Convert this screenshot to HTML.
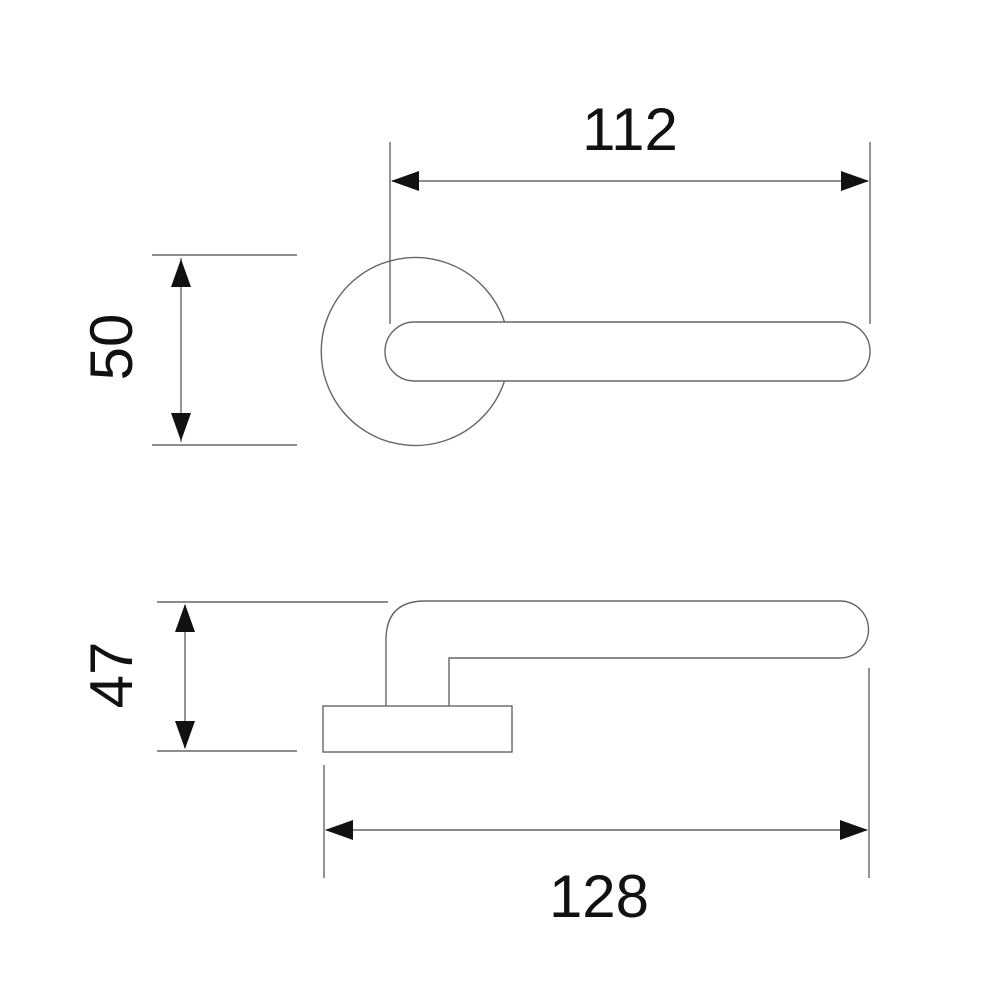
<!DOCTYPE html>
<html><head><meta charset="utf-8"><style>html,body{margin:0;padding:0;background:#fff}</style></head>
<body>
<svg width="1000" height="1000" viewBox="0 0 1000 1000" xmlns="http://www.w3.org/2000/svg">
<g fill="none" stroke="#666" stroke-width="1.4">
  <path d="M504.5 322 A94 94 0 1 0 504.5 381"/>
  <rect x="385" y="322" width="485" height="59" rx="29.5" ry="29.5"/>
  <line x1="390" y1="142" x2="390" y2="324"/>
  <line x1="870" y1="142" x2="870" y2="324"/>
  <line x1="392" y1="181" x2="868" y2="181"/>
  <line x1="152" y1="255" x2="297" y2="255"/>
  <line x1="152" y1="445" x2="297" y2="445"/>
  <line x1="181" y1="258" x2="181" y2="442"/>
  <path d="M386 706 L386 640 Q386 601 425 601 L840 601 A28.5 28.5 0 0 1 840 658 L449 658 L449 706"/>
  <rect x="323" y="706" width="189" height="46"/>
  <line x1="157" y1="602" x2="388" y2="602"/>
  <line x1="157" y1="751" x2="297" y2="751"/>
  <line x1="185" y1="605" x2="185" y2="748"/>
  <line x1="324" y1="765" x2="324" y2="878"/>
  <line x1="869" y1="668" x2="869" y2="878"/>
  <line x1="326" y1="830" x2="867" y2="830"/>
</g>
<g fill="#111">
  <polygon points="391,181 419,171 419,191"/>
  <polygon points="869,181 841,171 841,191"/>
  <polygon points="181,259 171,287 191,287"/>
  <polygon points="181,441 171,413 191,413"/>
  <polygon points="185,604 175,632 195,632"/>
  <polygon points="185,749 175,721 195,721"/>
  <polygon points="325,830 353,820 353,840"/>
  <polygon points="868,830 840,820 840,840"/>
</g>
<g font-family="Liberation Sans, sans-serif" font-size="60" fill="#111" text-anchor="middle">
  <text x="630" y="150">112</text>
  <text x="599" y="917">128</text>
  <text transform="translate(132,347) rotate(-90)">50</text>
  <text transform="translate(132,675) rotate(-90)">47</text>
</g>
</svg>
</body></html>
